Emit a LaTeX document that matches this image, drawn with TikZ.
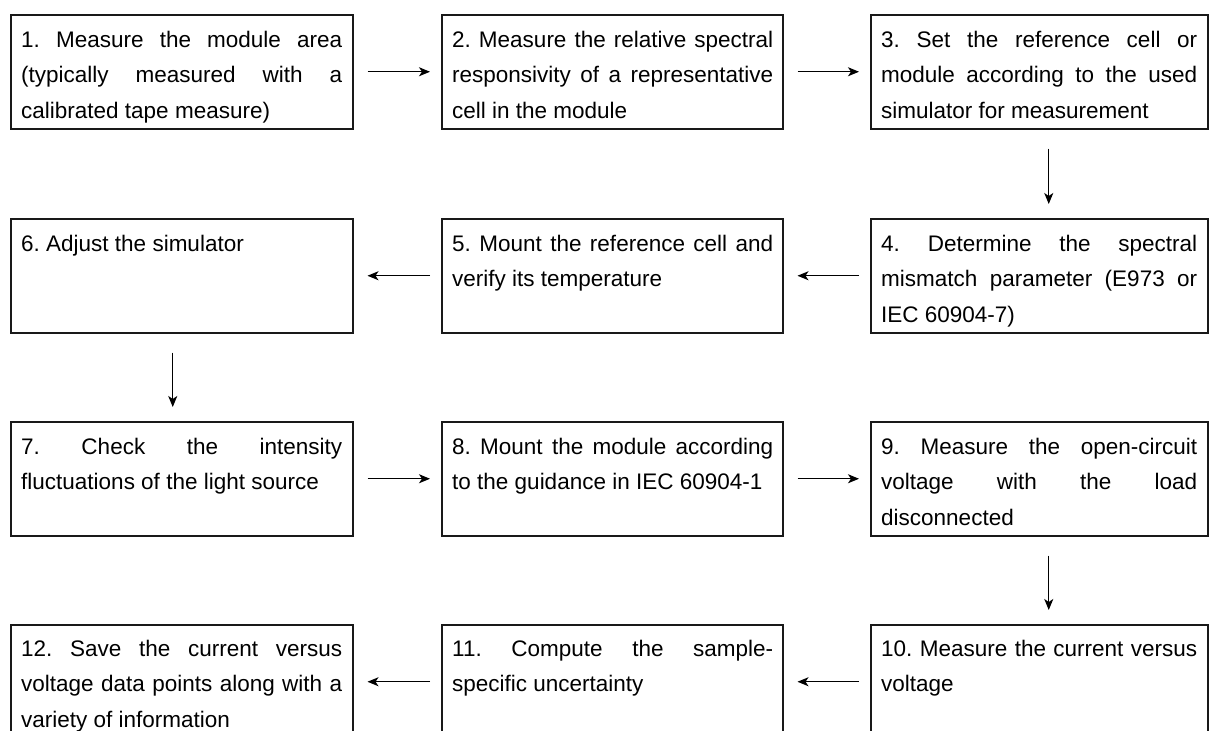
\documentclass[tikz,border=0pt]{standalone}
\usepackage{fontspec}
\setmainfont{Liberation Sans}
\usetikzlibrary{arrows.meta}
\hyphenpenalty=10000\relax
\tolerance=10000\relax
\frenchspacing
\begin{document}
\begin{tikzpicture}[x=1pt,y=-1pt,
  stepbox/.style={draw=black!90, line width=1.5pt, rectangle, inner sep=0pt,
    anchor=north west, minimum height=114pt},
  wA/.style={minimum width=342pt},
  wB/.style={minimum width=341pt},
  wC/.style={minimum width=337pt},
  txt/.style={anchor=base west, inner sep=0pt, align=justify,
    font=\fontsize{22.5pt}{35.6pt}\selectfont\frenchspacing},
  tA/.style={txt, text width=321pt},
  tC/.style={txt, text width=316pt},
  tip/.style={-{Stealth[length=11pt,width=9pt,inset=3pt]}, line width=1.3pt},
  arr/.style={tip, shorten <=14pt, shorten >=11pt},
  arrl/.style={tip, shorten <=11pt, shorten >=14pt},
  arrd/.style={tip, shorten <=19pt, shorten >=14pt}]
\useasboundingbox (0,0) rectangle (1211,731);
\clip (0,0) rectangle (1211,731);

% row 1
\node[stepbox,wA] (b1) at (10,14) {};
\node[stepbox,wB] (b2) at (441,14) {};
\node[stepbox,wC] (b3) at (870,14) {};
% row 2
\node[stepbox,wA] (b6) at (10,218) {};
\node[stepbox,wB] (b5) at (441,218) {};
\node[stepbox,wC] (b4) at (870,218) {};
% row 3
\node[stepbox,wA] (b7) at (10,421) {};
\node[stepbox,wB] (b8) at (441,421) {};
\node[stepbox,wC] (b9) at (870,421) {};
% row 4
\node[stepbox,wA] (b12) at (10,624) {};
\node[stepbox,wB] (b11) at (441,624) {};
\node[stepbox,wC] (b10) at (870,624) {};

% texts
\node[tA] (t1) at (21,47) {1. Measure the module area\linebreak (typically measured with a\linebreak calibrated tape measure)};
\node[tA] (t2) at (452,47) {2. Measure the relative spectral\linebreak responsivity of a representative\linebreak cell in the module};
\node[tC] (t3) at (881,47) {3. Set the reference cell or\linebreak module according to the used\linebreak simulator for measurement};
\node[tC] (t4) at (881,251) {4. Determine the spectral\linebreak mismatch parameter (E973 or\linebreak IEC 60904-7)};
\node[tA] (t5) at (452,251) {5. Mount the reference cell and\linebreak verify its temperature};
\node[tA] (t6) at (21,251) {6. Adjust the simulator};
\node[tA] (t7) at (21,454) {7. Check the intensity\linebreak fluctuations of the light source};
\node[tA] (t8) at (452,454) {8. Mount the module according\linebreak to the guidance in IEC 60904-1};
\node[tC] (t9) at (881,454) {9. Measure the open-circuit\linebreak voltage with the load\linebreak disconnected};
\node[tC] (t10) at (881,656) {10. Measure the current versus\linebreak voltage};
\node[tA] (t11) at (452,656) {11. Compute the sample-\linebreak specific uncertainty};
\node[tA] (t12) at (21,656) {12. Save the current versus\linebreak voltage data points along with a\linebreak variety of information};

% connectors
\draw[arr] (b1.east) -- (b2.west);
\draw[arr] (b2.east) -- (b3.west);
\draw[arrd] ([xshift=9.5pt]b3.south) -- ([xshift=9.5pt]b4.north);
\draw[arrl] (b4.west) -- (b5.east);
\draw[arrl] (b5.west) -- (b6.east);
\draw[arrd] ([xshift=-9pt]b6.south) -- ([xshift=-9pt]b7.north);
\draw[arr] (b7.east) -- (b8.west);
\draw[arr] (b8.east) -- (b9.west);
\draw[arrd] ([xshift=9.5pt]b9.south) -- ([xshift=9.5pt]b10.north);
\draw[arrl] (b10.west) -- (b11.east);
\draw[arrl] (b11.west) -- (b12.east);
\end{tikzpicture}
\end{document}
